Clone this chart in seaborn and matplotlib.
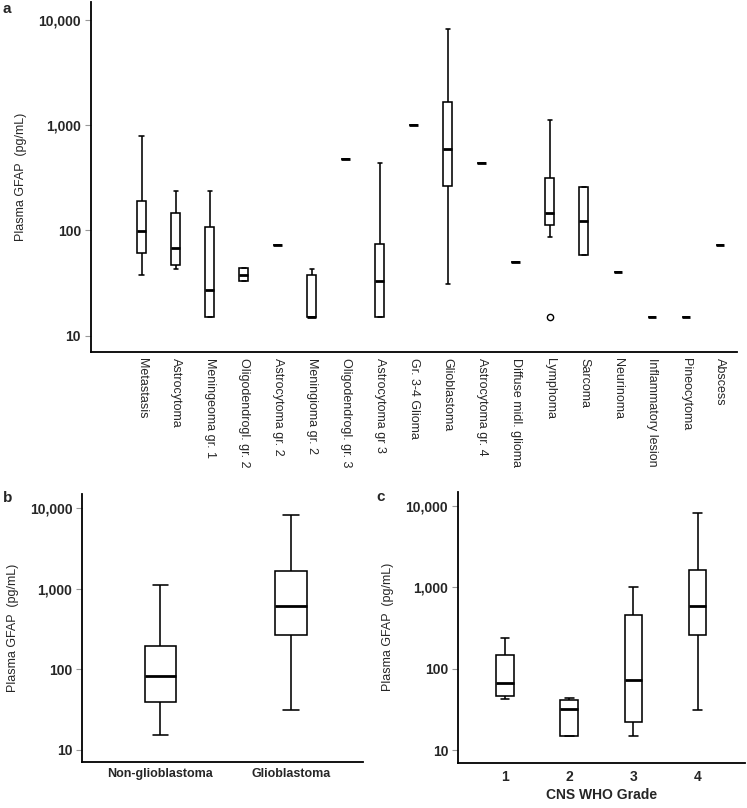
import numpy as np
import pandas as pd
import seaborn as sns
import matplotlib.pyplot as plt
from matplotlib.ticker import FixedLocator, NullLocator

# panel a - plasma GFAP per diagnosis (five-number summaries)
cats_a = ['Metastasis', 'Astrocytoma', 'Meningeoma gr. 1', 'Oligodendrogl. gr. 2',
          'Astrocytoma gr. 2', 'Meningioma gr. 2', 'Oligodendrogl. gr. 3', 'Astrocytoma gr 3',
          'Gr. 3-4 Glioma', 'Glioblastoma', 'Astrocytoma gr. 4', 'Diffuse midl. glioma',
          'Lymphoma', 'Sarcoma', 'Neurinoma', 'Inflammatory lesion', 'Pineocytoma', 'Abscess']
low_a = [38, 43, 15, 33, 72, 15, 480, 15, 1000, 31, 440, 50, 86, 58, 40, 15, 15, 72]
q1_a = [61, 47, 15, 33, 72, 15, 480, 15, 1000, 265, 440, 50, 112, 58, 40, 15, 15, 72]
med_a = [98, 68, 27, 38, 72, 15, 480, 33, 1000, 600, 440, 50, 148, 122, 40, 15, 15, 72]
q3_a = [192, 147, 108, 44, 72, 38, 480, 74, 1000, 1680, 440, 50, 316, 258, 40, 15, 15, 72]
high_a = [800, 237, 237, 44, 72, 43, 480, 443, 1000, 8300, 440, 50, 1130, 258, 40, 15, 15, 72]
outlier_cats_a = ['Lymphoma']
outlier_vals_a = [15]

# panel b - glioblastoma vs rest
cats_b = ['Non-glioblastoma', 'Glioblastoma']
low_b = [15, 31]
q1_b = [39.5, 265]
med_b = [81, 600]
q3_b = [192, 1680]
high_b = [1120, 8300]

# panel c - CNS WHO grade
cats_c = ['1', '2', '3', '4']
low_c = [43, 15, 15, 31]
q1_c = [47, 15, 22, 260]
med_c = [67, 32, 73, 600]
q3_c = [148, 41, 456, 1660]
high_c = [237, 44, 1000, 8300]

yticks = [10, 100, 1000, 10000]
ytick_labels = ['10', '100', '1,000', '10,000']
ylab = 'Plasma GFAP  (pg/mL)'


def long_df(cats, lows, q1s, meds, q3s, highs):
    rows = []
    for c, lo, a, m, b, hi in zip(cats, lows, q1s, meds, q3s, highs):
        for v in (lo, a, m, b, hi):
            rows.append({'group': c, 'gfap': v})
    return pd.DataFrame(rows)


def draw_boxes(ax, df, order, width):
    sns.boxplot(data=df, x='group', y='gfap', order=order, ax=ax, width=width,
                whis=(0, 100), log_scale=True, color='white', linecolor='black',
                linewidth=1.15, medianprops={'linewidth': 2.0}, fliersize=0)


def style_axes(ax, xlim):
    ax.set_ylim(7, 15000)
    ax.set_xlim(*xlim)
    ax.yaxis.set_major_locator(FixedLocator(yticks))
    ax.yaxis.set_minor_locator(NullLocator())
    ax.set_yticklabels(ytick_labels, fontsize=10, fontweight='bold')
    ax.tick_params(axis='y', length=4, width=0.8, color='#999999', pad=3)
    ax.tick_params(axis='x', length=0)
    for s in ['top', 'right']:
        ax.spines[s].set_visible(False)
    for s in ['left', 'bottom']:
        ax.spines[s].set_linewidth(1.3)
        ax.spines[s].set_color('black')
    ax.set_ylabel(ylab, fontsize=9, labelpad=8)


sns.set_style('ticks')
plt.rcParams['font.family'] = ['Liberation Sans', 'DejaVu Sans']

fig = plt.figure(figsize=(7.47, 8.08), dpi=100)

# a
ax_a = fig.add_axes([0.1214, 0.5644, 0.8652, 0.4336])
draw_boxes(ax_a, long_df(cats_a, low_a, q1_a, med_a, q3_a, high_a), cats_a, 0.26)
sns.stripplot(x=outlier_cats_a, y=outlier_vals_a, order=cats_a, ax=ax_a, jitter=False,
              log_scale=True, color='white', edgecolor='black', linewidth=1, size=4.5)
style_axes(ax_a, (-1.5, 17.5))
ax_a.set_xlabel('')
ax_a.set_xticks(range(len(cats_a)))
ax_a.set_xticklabels(cats_a, rotation=-90, fontsize=9, ha='center', va='top')
ax_a.tick_params(axis='x', pad=4)

# b
ax_b = fig.add_axes([0.1098, 0.0569, 0.3762, 0.3317])
draw_boxes(ax_b, long_df(cats_b, low_b, q1_b, med_b, q3_b, high_b), cats_b, 0.24)
style_axes(ax_b, (-0.6, 1.55))
ax_b.set_xlabel('')
ax_b.set_xticks(range(len(cats_b)))
ax_b.set_xticklabels(cats_b, fontsize=9, fontweight='bold')
ax_b.tick_params(axis='x', pad=4)

# c
ax_c = fig.add_axes([0.613, 0.0557, 0.384, 0.3358])
draw_boxes(ax_c, long_df(cats_c, low_c, q1_c, med_c, q3_c, high_c), cats_c, 0.27)
style_axes(ax_c, (-0.73, 3.73))
ax_c.set_xticks(range(len(cats_c)))
ax_c.set_xticklabels(cats_c, fontsize=10, fontweight='bold')
ax_c.tick_params(axis='x', pad=5)
ax_c.set_xlabel('CNS WHO Grade', fontsize=10, fontweight='bold', labelpad=3)

fig.text(0.004, 0.997, 'a', fontsize=11, fontweight='bold', va='top')
fig.text(0.004, 0.392, 'b', fontsize=11, fontweight='bold', va='top')
fig.text(0.504, 0.394, 'c', fontsize=11, fontweight='bold', va='top')

fig.savefig('out.png', dpi=100)
